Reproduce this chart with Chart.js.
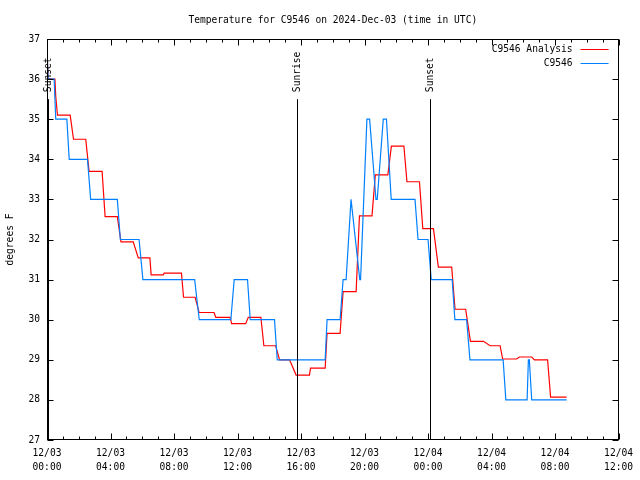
<!DOCTYPE html>
<html>
<head>
<meta charset="utf-8">
<script src="https://cdn.jsdelivr.net/npm/chart.js@4.4.1/dist/chart.umd.min.js"></script>
<style>
    html, body { margin: 0; padding: 0; background: #fff; }
</style>
</head>
<body>
<canvas id="tempChart" width="640" height="480"></canvas>
<script>
// hours since 12/03 00:00 UTC, temperature in degrees F
const analysisHours = [0, 0.07, 0.5, 0.55, 0.66, 1.46, 1.67, 2.44, 2.65, 3.47, 3.66, 4.43, 4.66, 5.43, 5.75, 6.48, 6.56, 7.32, 7.38, 8.47, 8.6, 9.33, 9.58, 10.52, 10.63, 11.53, 11.63, 12.51, 12.68, 13.47, 13.66, 14.4, 14.65, 15.28, 15.69, 16.53, 16.6, 17.52, 17.64, 18.46, 18.65, 19.47, 19.68, 20.47, 20.68, 21.47, 21.69, 22.48, 22.67, 23.46, 23.67, 24.34, 24.65, 25.49, 25.7, 26.37, 26.67, 27.49, 27.91, 28.54, 28.7, 29.58, 29.75, 30.53, 30.7, 31.53, 31.72, 32.73];
const analysisTemps = [36.75, 36.0, 36.0, 35.57, 35.1, 35.1, 34.5, 34.5, 33.7, 33.7, 32.57, 32.57, 31.94, 31.94, 31.54, 31.54, 31.12, 31.12, 31.16, 31.16, 30.56, 30.56, 30.18, 30.18, 30.06, 30.06, 29.9, 29.9, 30.06, 30.06, 29.35, 29.35, 29.0, 29.0, 28.62, 28.62, 28.79, 28.79, 29.66, 29.66, 30.7, 30.7, 32.59, 32.59, 33.61, 33.61, 34.33, 34.33, 33.44, 33.44, 32.27, 32.27, 31.31, 31.31, 30.26, 30.26, 29.46, 29.46, 29.35, 29.35, 29.02, 29.02, 29.07, 29.07, 29.0, 29.0, 28.07, 28.07];

const obsHours = [0, 0.07, 0.45, 0.55, 1.25, 1.4, 2.55, 2.75, 4.43, 4.62, 5.8, 6.04, 9.3, 9.59, 11.58, 11.79, 12.63, 12.8, 14.33, 14.5, 17.52, 17.64, 18.46, 18.65, 18.84, 19.15, 19.2, 19.7, 19.75, 20.15, 20.32, 20.72, 20.8, 21.18, 21.38, 21.68, 23.18, 23.37, 24.0, 24.2, 25.52, 25.69, 26.43, 26.64, 28.73, 28.9, 30.24, 30.32, 30.38, 30.53, 32.73];
const obsTemps = [36.75, 36.0, 36.0, 35.0, 35.0, 34.0, 34.0, 33.0, 33.0, 32.0, 32.0, 31.0, 31.0, 30.0, 30.0, 31.0, 31.0, 30.0, 30.0, 29.0, 29.0, 30.0, 30.0, 31.0, 31.0, 33.0, 33.0, 31.0, 31.0, 35.0, 35.0, 33.0, 33.0, 35.0, 35.0, 33.0, 33.0, 32.0, 32.0, 31.0, 31.0, 30.0, 30.0, 29.0, 29.0, 28.0, 28.0, 29.0, 29.0, 28.0, 28.0];

const xTickLabels = [
    ['12/03', '00:00'], ['12/03', '04:00'], ['12/03', '08:00'], ['12/03', '12:00'], ['12/03', '16:00'],
    ['12/03', '20:00'], ['12/04', '00:00'], ['12/04', '04:00'], ['12/04', '08:00'], ['12/04', '12:00']
];

const sunHours = [0.09, 15.75, 24.1];
const sunLabels = ['Sunset', 'Sunrise', 'Sunset'];
const sunLineTop = 35.5;

const seriesNames = ['C9546 Analysis', 'C9546'];
const seriesColors = ['#ff0000', '#0080ff'];

const FONT = '"DejaVu Sans Mono", monospace';
const FONT_SIZE = 9.6;
const CSS_FONT = FONT_SIZE + 'px ' + FONT;

// gnuplot-ish frame: border, inward ticks on all sides, sun markers, title, legend
const framePlugin = {
    id: 'frame',
    afterDatasetsDraw(chart) {
        const { ctx, chartArea: a, scales: { x, y } } = chart;
        const L = Math.round(a.left) + 0.5;
        const R = Math.round(a.right) - 0.5;
        const T = Math.round(a.top) + 0.5;
        const B = Math.round(a.bottom) - 0.5;

        ctx.save();
        ctx.strokeStyle = '#000';
        ctx.lineWidth = 1;
        ctx.strokeRect(L, T, R - L, B - T);

        ctx.beginPath();
        for (let h = x.min; h <= x.max; h++) {
            const px = Math.round(x.getPixelForValue(h)) + 0.5;
            const len = h % 4 === 0 ? 6 : 3;
            ctx.moveTo(px, B); ctx.lineTo(px, B - len);
            ctx.moveTo(px, T); ctx.lineTo(px, T + len);
        }
        for (let t = y.min; t <= y.max; t++) {
            const py = Math.round(y.getPixelForValue(t)) + 0.5;
            ctx.moveTo(L, py); ctx.lineTo(L + 6, py);
            ctx.moveTo(R, py); ctx.lineTo(R - 6, py);
        }
        ctx.stroke();

        // sunrise / sunset markers
        ctx.font = CSS_FONT;
        ctx.fillStyle = '#000';
        const topY = y.getPixelForValue(sunLineTop);
        sunHours.forEach((h, i) => {
            const px = Math.round(x.getPixelForValue(h)) + 0.5;
            ctx.beginPath();
            ctx.moveTo(px, topY);
            ctx.lineTo(px, B);
            ctx.stroke();
            ctx.save();
            ctx.translate(px, topY - 7);
            ctx.rotate(-Math.PI / 2);
            ctx.textAlign = 'left';
            ctx.textBaseline = 'middle';
            ctx.fillText(sunLabels[i], 0, 0);
            ctx.restore();
        });

        // title
        ctx.textAlign = 'center';
        ctx.textBaseline = 'middle';
        ctx.fillText('Temperature for C9546 on 2024-Dec-03 (time in UTC)', (a.left + a.right) / 2, 20);

        // legend
        ctx.textAlign = 'right';
        seriesNames.forEach((name, i) => {
            const ly = Math.round(a.top + 10 + i * 14) + 0.5;
            ctx.fillStyle = '#000';
            ctx.fillText(name, a.right - 46, ly);
            ctx.strokeStyle = seriesColors[i];
            ctx.beginPath();
            ctx.moveTo(a.right - 38, ly);
            ctx.lineTo(a.right - 10, ly);
            ctx.stroke();
        });
        ctx.restore();
    }
};

const toPoints = (xs, ys) => xs.map((h, i) => ({ x: h, y: ys[i] }));

new Chart(document.getElementById('tempChart'), {
    type: 'line',
    data: {
        datasets: [
            {
                label: seriesNames[0],
                data: toPoints(analysisHours, analysisTemps),
                borderColor: seriesColors[0],
                borderWidth: 1.2,
                pointRadius: 0,
                tension: 0,
                order: 1
            },
            {
                label: seriesNames[1],
                data: toPoints(obsHours, obsTemps),
                borderColor: seriesColors[1],
                borderWidth: 1.2,
                pointRadius: 0,
                tension: 0,
                order: 0
            }
        ]
    },
    options: {
        responsive: false,
        animation: false,
        layout: { padding: { top: 39, right: 19, left: 0, bottom: 0 } },
        plugins: {
            legend: { display: false },
            tooltip: { enabled: false },
            title: { display: false }
        },
        scales: {
            x: {
                type: 'linear',
                min: 0,
                max: 36,
                grid: { display: false, drawTicks: false },
                border: { display: false },
                ticks: {
                    stepSize: 4,
                    autoSkip: false,
                    maxRotation: 0,
                    padding: 7,
                    color: '#000',
                    font: { family: FONT, size: FONT_SIZE, lineHeight: 1.4 },
                    callback: v => xTickLabels[v / 4]
                },
                afterFit: s => { s.height = 40; }
            },
            y: {
                min: 27,
                max: 37,
                grid: { display: false, drawTicks: false },
                border: { display: false },
                ticks: {
                    stepSize: 1,
                    padding: 7,
                    color: '#000',
                    font: { family: FONT, size: FONT_SIZE }
                },
                title: {
                    display: true,
                    text: 'degrees F',
                    color: '#000',
                    padding: { top: 5, bottom: 0 },
                    font: { family: FONT, size: FONT_SIZE }
                },
                afterFit: s => { s.width = 47; }
            }
        }
    },
    plugins: [framePlugin]
});
</script>
</body>
</html>
